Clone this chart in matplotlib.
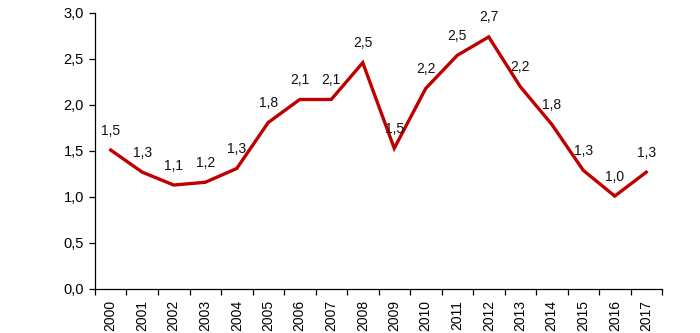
import matplotlib
matplotlib.use("Agg")
import matplotlib.pyplot as plt
import numpy as np

years = [str(y) for y in range(2000, 2018)]
values = [1.51, 1.27, 1.13, 1.16, 1.31, 1.81, 2.06, 2.06, 2.46, 1.53,
          2.18, 2.54, 2.74, 2.20, 1.79, 1.29, 1.01, 1.27]
yticks = [0.0, 0.5, 1.0, 1.5, 2.0, 2.5, 3.0]

plt.rcParams['font.family'] = ['Liberation Sans', 'DejaVu Sans']

fig = plt.figure(figsize=(7.0, 3.33), dpi=100)
ax = fig.add_axes([95/700, 44/333, 567/700, 276/333])

x = np.arange(len(years))
ax.plot(x, values, color='#C00000', lw=2.4, solid_joinstyle='miter')

for xi, v in zip(x, values):
    ax.annotate(f"{v:.1f}".replace('.', ','), (xi, v), xytext=(0, 9),
                textcoords='offset points', ha='center', va='bottom',
                fontsize=10, color='#111111')

ax.set_xlim(-0.5, len(years) - 0.5)
ax.set_ylim(0, 3.0)
ax.set_yticks(yticks)
ax.set_yticklabels([f"{t:.1f}".replace('.', ',') for t in yticks], fontsize=10.5)
ax.set_xticks(x)
ax.set_xticklabels(years, rotation=90, fontsize=10)
ax.set_xticks(np.arange(-0.5, len(years)), minor=True)
ax.tick_params(axis='x', which='major', length=0, pad=8)
ax.tick_params(axis='x', which='minor', length=4, width=0.9, direction='out')
ax.tick_params(axis='y', length=4, width=0.9, direction='out', pad=4)

for s in ['top', 'right']:
    ax.spines[s].set_visible(False)
for s in ['left', 'bottom']:
    ax.spines[s].set_linewidth(0.9)
    ax.spines[s].set_color('#000000')

fig.savefig('out.png', dpi=100)
